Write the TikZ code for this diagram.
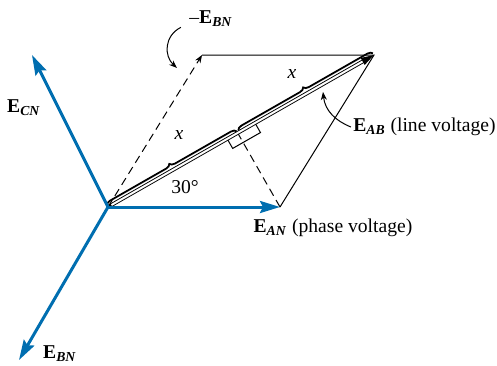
\documentclass[tikz,border=0pt]{standalone}
\usepackage{fontspec}
\setmainfont{Liberation Serif}
\usetikzlibrary{arrows.meta,calc,decorations.pathreplacing}
\definecolor{phaseblue}{RGB}{0,110,176}
\newcommand{\Ev}[1]{\textbf{E}\textsubscript{\textbf{\textit{#1}}}}

\begin{document}
\begin{tikzpicture}[x=0.5pt,y=-0.5pt,>={Stealth[length=4pt,width=3pt]},
  font=\fontsize{9.8}{12}\selectfont,
  phasor/.style={draw=phaseblue,line width=1.5pt,-{Stealth[length=10pt,width=6pt,inset=1.5pt]}},
  thinline/.style={line width=0.5pt},
  dashline/.style={thinline,dash pattern=on 4pt off 2.5pt},
  xbrace/.style={decorate,decoration={brace,amplitude=2.5pt,raise=1pt},line width=0.9pt},
  lbl/.style={inner sep=1pt}]
\useasboundingbox (0,0) rectangle (497,365);
% phasor end points
\coordinate (n) at (108,207);
\coordinate (a) at (280,207);
\coordinate (c) at (32,55);
\coordinate (b) at (19,360);
\coordinate (mb) at (202,55);
\coordinate (t) at (374,55);
\coordinate (m) at ($(n)!(a)!(t)$);
% right angle mark
\coordinate (r1) at ($(m)!-6pt!(t)$);
\coordinate (r2) at ($(m)!10pt!(t)$);
\draw[thinline] (r1) -- ($(r1)!5.5pt!-90:(t)$) -- ($(r2)!5.5pt!90:(n)$) -- (r2);
\draw[dashline] (a) -- (m);
% parallelogram
\draw[dashline,->] (n) -- (mb);
\draw[thinline] (mb) -- (t) -- (a);
% line voltage, drawn hollow
\draw[line width=1.9pt,shorten >=5pt] (n) -- (t);
\draw[white,line width=1pt,shorten <=2pt,shorten >=4.5pt] (n) -- (t);
\fill (t) -- ($(t)!6.5pt!(n)!2pt!90:(n)$) -- ($(t)!6.5pt!(n)!2pt!-90:(n)$) -- cycle;
\draw[xbrace] (n) -- (m);
\draw[xbrace] ($(m)!1pt!(t)$) -- (t);
\node (x1) at (179,135) {\textit{x}};
\node (x2) at (292,74) {\textit{x}};
% phase voltages
\draw[phasor] (n) -- (a);
\draw[phasor] (n) -- (c);
\draw[phasor] (n) -- (b);
\node (ang) at (185,187) {30°};
% labels
\node[lbl] (lan) at (333,228) {\Ev{AN} (phase voltage)};
\node[inner sep=0pt,anchor=east] (lab) at (496,127) {\Ev{AB} (line voltage)};
\node[lbl] (lcn) at (24,108) {\Ev{CN}};
\node[lbl] (lbn) at (60,354) {\Ev{BN}};
\node[lbl] (lmb) at (211,19) {–\Ev{BN}};
\coordinate (pmb) at (177,68);
\coordinate (pab) at (323,92);
\draw[thinline,->] ($(lmb.south west)+(-6,-2)$) .. controls (164,36) and (164,56) .. (pmb);
\draw[thinline,->] ($(lab.west)+(-2,0)$) .. controls (336,121) and (325,111) .. (pab);
\end{tikzpicture}
\end{document}
